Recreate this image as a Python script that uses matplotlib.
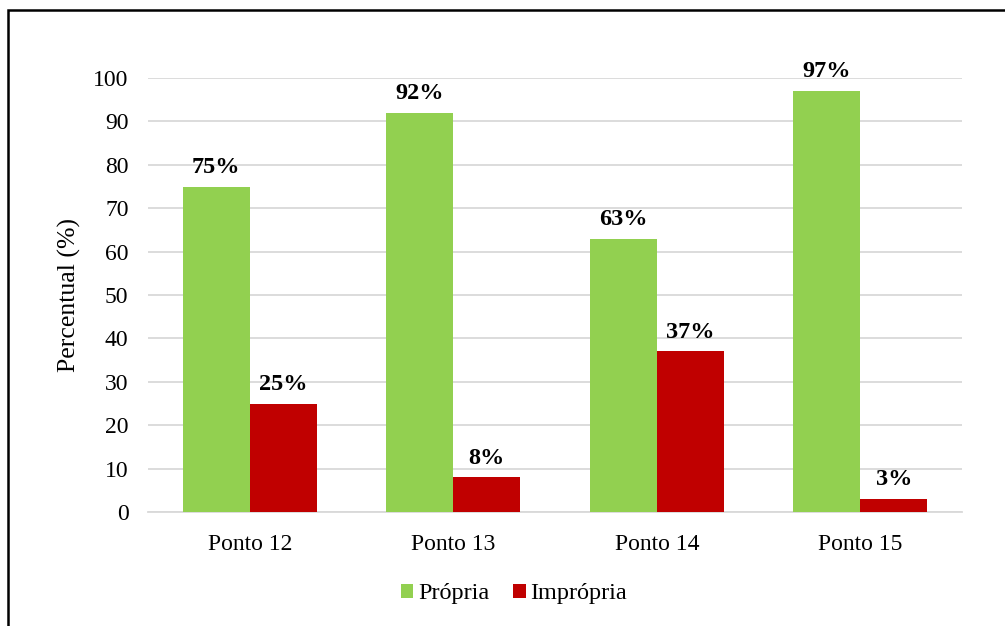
import matplotlib
matplotlib.use("Agg")
import matplotlib.pyplot as plt
import numpy as np
from matplotlib.patches import Rectangle

categories = ["Ponto 12", "Ponto 13", "Ponto 14", "Ponto 15"]
propria = [75, 92, 63, 97]
impropria = [25, 8, 37, 3]
series_names = ["Própria", "Imprópria"]
yticks = [0, 10, 20, 30, 40, 50, 60, 70, 80, 90, 100]

plt.rcParams['font.family'] = ['Liberation Serif', 'DejaVu Serif']

fig = plt.figure(figsize=(10.05, 6.26), dpi=100)
ax = fig.add_axes([148/1005, 1-512/626, (962-148)/1005, (512-78)/626])

x = np.arange(len(categories))
w = 0.33
b1 = ax.bar(x - w/2, propria, w, color="#92D050", label=series_names[0], zorder=3)
b2 = ax.bar(x + w/2, impropria, w, color="#C00000", label=series_names[1], zorder=3)

for bars, vals in ((b1, propria), (b2, impropria)):
    for r, v in zip(bars, vals):
        ax.text(r.get_x() + r.get_width()/2, v + 2.0, f"{v}%", ha="center", va="bottom",
                fontsize=17.5, fontweight="bold", clip_on=False)

ax.set_xlim(-0.5, len(categories) - 0.5)
ax.set_ylim(0, 100)
ax.set_yticks(yticks)
ax.set_xticks(x)
ax.set_xticklabels(categories, fontsize=17)
ax.tick_params(axis='y', labelsize=17, length=0, pad=14)
ax.tick_params(axis='x', length=0, pad=16)
ax.yaxis.grid(True, color="#D9D9D9", linewidth=1.3, zorder=0)
for s in ["top", "right", "left"]:
    ax.spines[s].set_visible(False)
ax.spines["bottom"].set_color("#D9D9D9")
ax.spines["bottom"].set_linewidth(1.3)
ax.set_ylabel("Percentual (%)", fontsize=18.5, labelpad=9)

leg = fig.legend(loc="center", bbox_to_anchor=(514/1005, 1-594/626), ncol=2, frameon=False,
                 fontsize=17.5, handlelength=0.5, handleheight=0.5, handletextpad=0.2,
                 columnspacing=1.0)

# outer frame
fig.add_artist(Rectangle((8/1005, -0.05), 1.1, 1-10/626+0.05, transform=fig.transFigure,
                         fill=False, edgecolor="black", linewidth=1.8))

fig.savefig("out.png", dpi=100)
